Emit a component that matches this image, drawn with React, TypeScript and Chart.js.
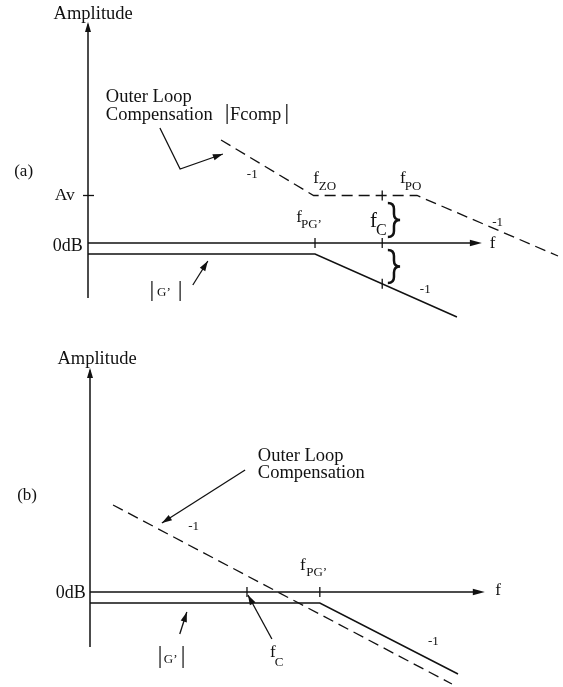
import { useEffect, useRef } from "react";
import { Chart, registerables } from "chart.js";

Chart.register(...registerables);

const SERIF = "'Liberation Serif', 'Times New Roman', serif";
const INK = "#111";

// ---------- Panel (a): outer loop compensation with a flat mid-band ----------
const compFreqA = [28.3, 48, 70, 100];
const compAmpA = [41.2, 19, 19, -5.2];
const plantFreqA = [0, 48.3, 78.5];
const plantAmpA = [-4.4, -4.4, -29.6];
const avLevel = 19;
const fPGa = 48.3;
const fCa = 62.6;
const yAxisA = [-22, 88.4];
const xAxisEndA = 83.8;

// ---------- Panel (b): integrator-type outer loop compensation ----------
const compFreqB = [4.9, 77];
const compAmpB = [34.8, -36.8];
const plantFreqB = [0, 48.9, 78.3];
const plantAmpB = [-4.4, -4.4, -32.8];
const fPGb = 48.9;
const fCb = 33.4;
const yAxisB = [-22, 89.6];
const xAxisEndB = 84;

type Label = { t: string; x: number; y: number; s: number; a?: CanvasTextAlign };
type Bar = [number, number, number];
type Arrow = number[][];
type Brace = { x: number; w: number; top: number; bot: number };

const labelsA: Label[] = [
  { t: "Amplitude", x: 1.1, y: 89.6, s: 18.5, a: "center" },
  { t: "Outer Loop", x: 3.8, y: 56.4, s: 18.5 },
  { t: "Compensation", x: 3.8, y: 49.2, s: 18.5 },
  { t: "Fcomp", x: 30.2, y: 49.2, s: 18.5 },
  { t: "(a)", x: -15.7, y: 26.8, s: 17 },
  { t: "Av", x: -2.8, y: 17.2, s: 17.5, a: "right" },
  { t: "0dB", x: -1.1, y: -3.2, s: 18, a: "right" },
  { t: "-1", x: 33.8, y: 26, s: 13 },
  { t: "f", x: 47.9, y: 24, s: 17 },
  { t: "ZO", x: 49.1, y: 21.2, s: 13 },
  { t: "f", x: 66.4, y: 24, s: 17 },
  { t: "PO", x: 67.4, y: 21.2, s: 13 },
  { t: "f", x: 44.3, y: 8.4, s: 17 },
  { t: "PG\u2019", x: 45.3, y: 6, s: 13 },
  { t: "f", x: 60, y: 6.4, s: 21 },
  { t: "C", x: 61.3, y: 3.2, s: 16 },
  { t: "f", x: 85.5, y: -2, s: 17 },
  { t: "-1", x: 86, y: 6.8, s: 13 },
  { t: "-1", x: 70.6, y: -20, s: 13 },
  { t: "G\u2019", x: 14.7, y: -21.2, s: 13 },
];
const barsA: Bar[] = [
  [29.6, 55.6, 47.6],
  [42.3, 55.6, 47.6],
  [13.6, -15.2, -23.2],
  [19.6, -15.2, -23.2],
];
const arrowsA: Arrow[] = [
  [[15.3, 46], [19.6, 29.6], [28.7, 35.6]],
  [[22.3, -16.8], [25.5, -7.2]],
];
const bracesA: Brace[] = [
  { x: 63.8, w: 2.6, top: 16, bot: 2.4 },
  { x: 63.8, w: 2.6, top: -2.8, bot: -16 },
];

const labelsB: Label[] = [
  { t: "Amplitude", x: 1.5, y: 91.2, s: 18.5, a: "center" },
  { t: "(b)", x: -15.5, y: 36.8, s: 17 },
  { t: "Outer Loop", x: 35.7, y: 52.4, s: 18.5 },
  { t: "Compensation", x: 35.7, y: 45.6, s: 18.5 },
  { t: "-1", x: 20.9, y: 24.8, s: 13 },
  { t: "0dB", x: -0.9, y: -2.4, s: 18, a: "right" },
  { t: "f", x: 44.7, y: 8.8, s: 17 },
  { t: "PG\u2019", x: 46, y: 6.4, s: 13 },
  { t: "f", x: 86.2, y: -1.2, s: 17 },
  { t: "-1", x: 71.9, y: -21.2, s: 13 },
  { t: "f", x: 38.3, y: -26, s: 17 },
  { t: "C", x: 39.3, y: -29.6, s: 13 },
  { t: "G\u2019", x: 15.7, y: -28.4, s: 13 },
];
const barsB: Bar[] = [
  [14.9, -21.6, -30.4],
  [19.8, -21.6, -30.4],
];
const arrowsB: Arrow[] = [
  [[33, 48.8], [15.3, 27.6]],
  [[38.7, -18.8], [33.6, -1.2]],
  [[19.1, -16.8], [20.6, -8]],
];

// value of a piecewise-linear curve at frequency f
function valueAt(fs: number[], vs: number[], f: number) {
  for (let i = 0; i < fs.length - 1; i++) {
    if (f >= fs[i] && f <= fs[i + 1]) {
      const k = (f - fs[i]) / (fs[i + 1] - fs[i]);
      return vs[i] + k * (vs[i + 1] - vs[i]);
    }
  }
  return vs[vs.length - 1];
}

const toPts = (fs: number[], vs: number[]) => fs.map((f, i) => ({ x: f, y: vs[i] }));

type Panel = {
  comp: { x: number; y: number }[];
  plant: { x: number; y: number }[];
  yAxis: number[];
  xAxisEnd: number;
  yMin: number;
  yMax: number;
  padding: { left: number; right: number; top: number; bottom: number };
  labels: Label[];
  bars: Bar[];
  arrows: Arrow[];
  braces: Brace[];
  vTicks: number[][]; // [freq, amplitude]
  hTicks: number[]; // amplitude levels on the vertical axis
};

function head(ctx: CanvasRenderingContext2D, x0: number, y0: number, x1: number, y1: number, len = 10, half = 3.2) {
  const a = Math.atan2(y1 - y0, x1 - x0);
  ctx.beginPath();
  ctx.moveTo(x1, y1);
  ctx.lineTo(x1 - len * Math.cos(a) + half * Math.sin(a), y1 - len * Math.sin(a) - half * Math.cos(a));
  ctx.lineTo(x1 - len * Math.cos(a) - half * Math.sin(a), y1 - len * Math.sin(a) + half * Math.cos(a));
  ctx.closePath();
  ctx.fill();
}

function makeOverlay(p: Panel) {
  return {
    id: "bodeOverlay",
    afterDraw(chart: Chart) {
      const ctx = chart.ctx;
      const sx = chart.scales.x;
      const sy = chart.scales.y;
      const X = (v: number) => sx.getPixelForValue(v);
      const Y = (v: number) => sy.getPixelForValue(v);
      ctx.save();
      ctx.strokeStyle = INK;
      ctx.fillStyle = INK;
      ctx.lineCap = "butt";

      // axis arrowheads
      head(ctx, X(0), Y(p.yAxis[0]), X(0), Y(p.yAxis[1]), 10, 3);
      head(ctx, X(0), Y(0), X(p.xAxisEnd), Y(0), 12, 3.2);

      // tick marks
      ctx.lineWidth = 1.3;
      for (const [f, v] of p.vTicks) {
        ctx.beginPath();
        ctx.moveTo(X(f), Y(v) - 5);
        ctx.lineTo(X(f), Y(v) + 5);
        ctx.stroke();
      }
      for (const v of p.hTicks) {
        ctx.beginPath();
        ctx.moveTo(X(0) - 5, Y(v));
        ctx.lineTo(X(0) + 6, Y(v));
        ctx.stroke();
      }

      // magnitude bars |..|
      ctx.lineWidth = 1.2;
      for (const [f, a, b] of p.bars) {
        ctx.beginPath();
        ctx.moveTo(X(f), Y(a));
        ctx.lineTo(X(f), Y(b));
        ctx.stroke();
      }

      // pointer arrows
      ctx.lineWidth = 1.3;
      for (const pts of p.arrows) {
        ctx.beginPath();
        pts.forEach(([f, v], i) => (i ? ctx.lineTo(X(f), Y(v)) : ctx.moveTo(X(f), Y(v))));
        ctx.stroke();
        const n = pts.length;
        head(ctx, X(pts[n - 2][0]), Y(pts[n - 2][1]), X(pts[n - 1][0]), Y(pts[n - 1][1]), 10, 3.2);
      }

      // braces
      ctx.lineWidth = 2.5;
      for (const b of p.braces) {
        const x0 = X(b.x);
        const x1 = X(b.x + b.w);
        const xm = (x0 + x1) / 2;
        const t = Y(b.top);
        const bt = Y(b.bot);
        const m = (t + bt) / 2;
        const r = 6;
        ctx.beginPath();
        ctx.moveTo(x0, t);
        ctx.quadraticCurveTo(xm, t, xm, t + r);
        ctx.lineTo(xm, m - r);
        ctx.quadraticCurveTo(xm, m, x1, m);
        ctx.quadraticCurveTo(xm, m, xm, m + r);
        ctx.lineTo(xm, bt - r);
        ctx.quadraticCurveTo(xm, bt, x0, bt);
        ctx.stroke();
      }

      // text
      ctx.textBaseline = "alphabetic";
      for (const l of p.labels) {
        ctx.font = `${l.s}px ${SERIF}`;
        ctx.textAlign = l.a || "left";
        ctx.fillText(l.t, X(l.x), Y(l.y));
      }
      ctx.restore();
    },
  };
}

function buildChart(canvas: HTMLCanvasElement, p: Panel) {
  const line = (data: { x: number; y: number }[], width: number, dash: number[] = []) => ({
    data,
    showLine: true,
    borderColor: INK,
    borderWidth: width,
    borderDash: dash,
    pointRadius: 0,
    fill: false,
    tension: 0,
    clip: false as const,
  });
  return new Chart(canvas, {
    type: "scatter",
    data: {
      datasets: [
        line([{ x: 0, y: p.yAxis[0] }, { x: 0, y: p.yAxis[1] - 1 }], 1.5),
        line([{ x: 0, y: 0 }, { x: p.xAxisEnd - 1, y: 0 }], 1.5),
        line(p.plant, 1.5),
        line(p.comp, 1.3, [11, 6]),
      ] as any,
    },
    options: {
      animation: false,
      responsive: false,
      events: [],
      layout: { padding: p.padding },
      scales: {
        x: { type: "linear", min: 0, max: 100, display: false },
        y: { type: "linear", min: p.yMin, max: p.yMax, display: false },
      },
      plugins: { legend: { display: false }, tooltip: { enabled: false } },
    },
    plugins: [makeOverlay(p)],
  });
}

const panelA: Panel = {
  comp: toPts(compFreqA, compAmpA),
  plant: toPts(plantFreqA, plantAmpA),
  yAxis: yAxisA,
  xAxisEnd: xAxisEndA,
  yMin: -30,
  yMax: 90,
  padding: { left: 88, right: 5, top: 18, bottom: 22 },
  labels: labelsA,
  bars: barsA,
  arrows: arrowsA,
  braces: bracesA,
  vTicks: [
    [fPGa, 0],
    [fCa, 0],
    [fCa, valueAt(compFreqA, compAmpA, fCa)],
    [fCa, valueAt(plantFreqA, plantAmpA, fCa)],
  ],
  hTicks: [avLevel],
};

const panelB: Panel = {
  comp: toPts(compFreqB, compAmpB),
  plant: toPts(plantFreqB, plantAmpB),
  yAxis: yAxisB,
  xAxisEnd: xAxisEndB,
  yMin: -28,
  yMax: 92,
  padding: { left: 90, right: 3, top: 22, bottom: 25 },
  labels: labelsB,
  bars: barsB,
  arrows: arrowsB,
  braces: [],
  vTicks: [
    [fPGb, 0],
    [fCb, 0],
  ],
  hTicks: [],
};

export default function App() {
  const refA = useRef<HTMLCanvasElement>(null);
  const refB = useRef<HTMLCanvasElement>(null);

  useEffect(() => {
    const a = buildChart(refA.current!, panelA);
    const b = buildChart(refB.current!, panelB);
    return () => {
      a.destroy();
      b.destroy();
    };
  }, []);

  return (
    <div style={{ position: "absolute", left: 0, top: 0, width: 563, height: 687, background: "#fff" }}>
      <canvas ref={refA} width={563} height={340} style={{ position: "absolute", left: 0, top: 0 }} />
      <canvas ref={refB} width={563} height={347} style={{ position: "absolute", left: 0, top: 340 }} />
    </div>
  );
}
